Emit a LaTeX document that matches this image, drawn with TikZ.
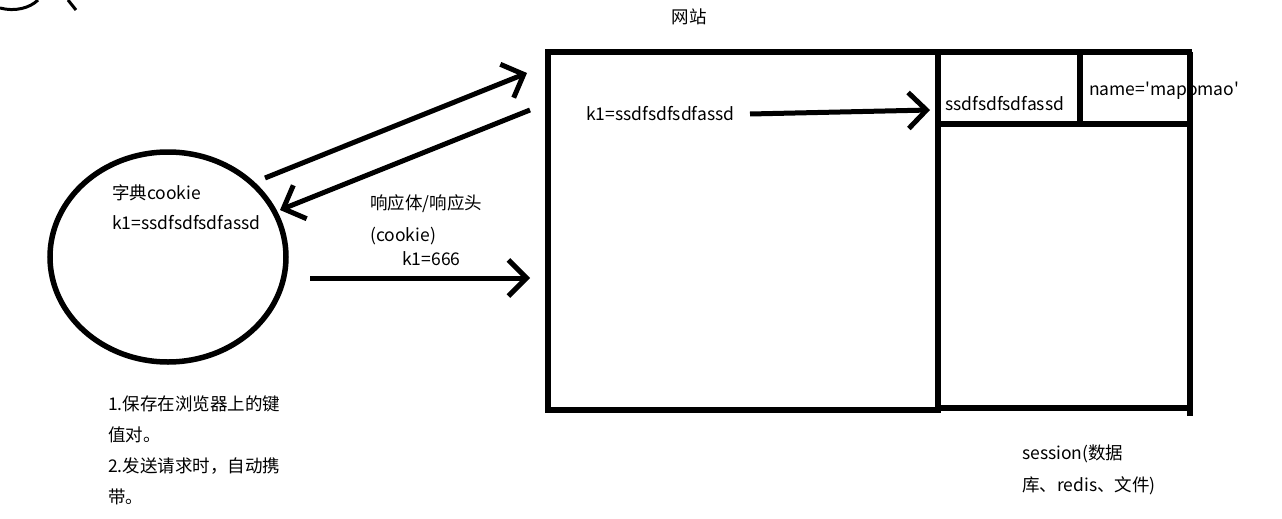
\documentclass[tikz,border=0pt]{standalone}
\usepackage{fontspec}
\setmainfont{Noto Sans CJK SC}
\usetikzlibrary{arrows.meta,shapes.geometric}

\begin{document}
\begin{tikzpicture}[x=1pt,y=-1pt,>={Straight Barb[length=18pt,width=36pt,line width=5pt]},font=\fontsize{17.5}{21}\selectfont]
\useasboundingbox (0,0) rectangle (1282,519);
\tikzset{stroke/.style={line width=5.5pt},txt/.style={anchor=west,inner sep=0pt}}
% browser side
\node[draw,ellipse,stroke,minimum width=236pt,minimum height=210pt] (cookie) at (168,257){};
\node[txt] (dict) at (112,193){字典cookie};
\node[txt] (dictkv) at (112,223){k1=ssdfsdfsdfassd};
\node[txt,anchor=north west,align=left,font=\fontsize{17.5}{31}\selectfont] (note) at (108,396){1.保存在浏览器上的键\\值对。\\2.发送请求时，自动携\\带。};
% site
\node[anchor=west] (site) at (668,17){网站};
\draw[stroke] (548,52) rectangle (938,410);
\draw[stroke] (938,52)--(1192,52); \draw[stroke] (938,124)--(1192,124);
\draw[stroke] (1080,52)--(1080,124); \draw[stroke] (1190,52)--(1190,416);
\draw[stroke] (938,408)--(1190,408);
\node[txt] (sid) at (945,104){ssdfsdfsdfassd};
\node[txt] (name) at (1089,91){name=\textquotesingle mapomao\textquotesingle};
\node[txt] (sitekv) at (586,114){k1=ssdfsdfsdfassd};
\node[txt,anchor=north west,align=left,font=\fontsize{17.5}{32}\selectfont] (session) at (1022,445){session(数据\\库、redis、文件)};
% response
\node[txt] (resp) at (370,204){响应体/响应头};
\node[txt] (resp2) at (370,236){(cookie)};
\node[txt] (respkv) at (402,259){k1=666};
% arrows
\coordinate (reqA) at (265,178); \coordinate (reqB) at (527,73);
\coordinate (resA) at (530,110); \coordinate (resB) at (280,210);
\coordinate (sendA) at (310,278); \coordinate (sendB) at (530,278);
\coordinate (lookA) at (750,114); \coordinate (lookB) at (930,110);
\draw[->,line width=5pt] (reqA)--(reqB);
\draw[->,line width=5pt] (resA)--(resB);
\draw[->,line width=5pt] (sendA)--(sendB);
\draw[->,line width=5pt] (lookA)--(lookB);
% stray strokes top left
\draw[line width=3pt] (0,8) .. controls (15,12) and (30,8) .. (38,0);
\draw[line width=3pt] (68,0)--(76,10);
\end{tikzpicture}
\end{document}
